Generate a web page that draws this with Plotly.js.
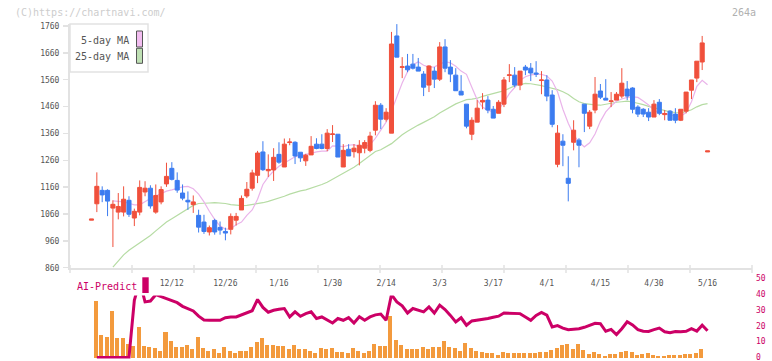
<!DOCTYPE html>
<html><head><meta charset="utf-8">
<script src="https://cdn.plot.ly/plotly-3.0.1.min.js"></script>
<style>html,body{margin:0;padding:0;background:#fff}#chart{width:772px;height:361px}</style>
</head><body><div id="chart"></div>
<script>
const dates = ["2024-11-21","2024-11-22","2024-11-25","2024-11-26","2024-11-27","2024-11-28","2024-11-29",
"2024-12-02","2024-12-03","2024-12-04","2024-12-05","2024-12-06","2024-12-09","2024-12-10","2024-12-11","2024-12-12","2024-12-13",
"2024-12-16","2024-12-17","2024-12-18","2024-12-19","2024-12-20","2024-12-23","2024-12-24","2024-12-25","2024-12-26","2024-12-27","2024-12-30",
"2025-01-06","2025-01-07","2025-01-08","2025-01-09","2025-01-10","2025-01-14","2025-01-15","2025-01-16","2025-01-17","2025-01-20","2025-01-21",
"2025-01-22","2025-01-23","2025-01-24","2025-01-27","2025-01-28","2025-01-29","2025-01-30","2025-01-31",
"2025-02-03","2025-02-04","2025-02-05","2025-02-06","2025-02-07","2025-02-10","2025-02-12","2025-02-13","2025-02-14","2025-02-17","2025-02-18",
"2025-02-19","2025-02-20","2025-02-21","2025-02-25","2025-02-26","2025-02-27","2025-02-28",
"2025-03-03","2025-03-04","2025-03-05","2025-03-06","2025-03-07","2025-03-10","2025-03-11","2025-03-12","2025-03-13","2025-03-14","2025-03-17",
"2025-03-18","2025-03-19","2025-03-21","2025-03-24","2025-03-25","2025-03-26","2025-03-27","2025-03-28","2025-03-31",
"2025-04-01","2025-04-02","2025-04-03","2025-04-04","2025-04-07","2025-04-08","2025-04-09","2025-04-10","2025-04-11","2025-04-14","2025-04-15",
"2025-04-16","2025-04-17","2025-04-18","2025-04-21","2025-04-22","2025-04-23","2025-04-24","2025-04-25","2025-04-28","2025-04-30",
"2025-05-01","2025-05-02","2025-05-07","2025-05-08","2025-05-09","2025-05-12","2025-05-13","2025-05-14","2025-05-15","2025-05-16"];

const open  = [1037,1098,1148,1148,1082,1067,1067,1111,1045,1067,1142,1156,1067,1105,1172,1230,1185,1138,1111,1095,
1055,1030,993,1036,1010,995,1003,1037,1075,1127,1156,1204,1291,1221,1224,1282,1235,1326,1327,1290,
1258,1280,1320,1320,1304,1356,1357,1235,1301,1292,1288,1305,1297,1372,1465,1413,1361,1723,1606,1611,
1618,1607,1581,1540,1592,1562,1682,1607,1577,1517,1469,1357,1402,1477,1484,1450,1435,1469,1576,1577,
1540,1607,1603,1585,1557,1559,1503,1245,1331,1193,1327,1335,1469,1387,1447,1518,1491,1479,1484,1499,
1525,1529,1458,1450,1439,1421,1476,1430,1443,1432,1409,1443,1521,1566,1626,1291];
const high  = [1041,1215,1163,1152,1111,1138,1163,1126,1080,1185,1182,1167,1170,1163,1251,1253,1215,1170,1144,1129,
1076,1057,1017,1042,1032,1009,1062,1064,1129,1179,1225,1295,1331,1282,1305,1327,1341,1342,1331,1290,
1284,1350,1342,1357,1376,1391,1357,1320,1320,1320,1335,1335,1366,1480,1473,1454,1738,1767,1644,1656,
1656,1641,1592,1614,1607,1700,1711,1633,1603,1577,1469,1420,1484,1510,1499,1462,1484,1570,1618,1607,
1592,1615,1622,1629,1592,1577,1521,1391,1357,1275,1409,1342,1469,1447,1570,1544,1562,1514,1514,1603,
1555,1532,1465,1454,1454,1484,1488,1447,1447,1454,1450,1514,1559,1629,1723,1295];
const low   = [1037,1067,1104,1052,937,1040,1051,1049,1015,1055,1126,1080,1061,1096,1161,1185,1139,1111,1075,1064,
991,986,980,983,983,962,984,1017,1075,1119,1147,1175,1220,1198,1183,1247,1235,1316,1246,1254,
1239,1280,1301,1301,1294,1328,1272,1235,1276,1270,1241,1286,1290,1353,1376,1404,1361,1644,1566,1588,
1598,1592,1499,1514,1529,1555,1588,1551,1519,1503,1379,1335,1402,1450,1435,1417,1435,1458,1551,1532,
1521,1577,1555,1570,1506,1480,1383,1234,1238,1107,1297,1234,1365,1376,1435,1488,1484,1458,1484,1491,
1484,1435,1421,1421,1406,1421,1428,1409,1409,1398,1406,1435,1488,1551,1596,1291];
const close = [1041,1163,1131,1108,1096,1088,1115,1059,1070,1159,1156,1090,1129,1151,1200,1189,1149,1119,1105,1105,
1011,995,1009,993,1000,989,1051,1051,1118,1152,1213,1287,1225,1226,1271,1253,1320,1328,1276,1269,
1279,1312,1304,1304,1361,1358,1272,1297,1276,1305,1316,1326,1350,1465,1413,1439,1693,1644,1608,1597,
1603,1592,1532,1611,1562,1682,1603,1581,1519,1503,1387,1409,1454,1483,1447,1417,1476,1559,1578,1540,
1592,1596,1585,1581,1559,1499,1394,1361,1316,1174,1372,1316,1435,1439,1506,1495,1484,1481,1506,1547,
1499,1450,1432,1432,1421,1469,1435,1434,1409,1409,1450,1514,1559,1629,1697,1295];

const ma5 = [null,null,null,null,1109,1107,1105,1100,1094,1094,1107,1118,1127,1136,1145,1150,1156,1161,1163,1154,
1134,1105,1070,1040,1015,1004,1005,1020,1030,1055,1075,1115,1170,1198,1220,1238,1250,1263,1273,1278,
1281,1286,1291,1294,1294,1314,1313,1311,1316,1318,1312,1311,1318,1342,1372,1402,1443,1495,1548,1590,
1615,1627,1614,1607,1608,1617,1627,1623,1610,1592,1580,1532,1485,1458,1446,1441,1448,1476,1508,1531,
1557,1571,1578,1580,1580,1574,1555,1515,1450,1398,1355,1328,1310,1325,1358,1405,1440,1462,1480,1488,
1494,1496,1494,1481,1466,1447,1436,1434,1429,1424,1424,1438,1478,1535,1558,1541];
const ma25 = [null,null,null,null,862,887,908,925,938,951,965,980,997,1014,1030,1042,1055,1068,1079,1092,
1099,1101,1101,1102,1101,1099,1095,1093,1091,1092,1095,1098,1102,1107,1113,1118,1126,1134,1141,1146,
1150,1156,1162,1170,1178,1189,1202,1213,1224,1234,1248,1264,1280,1293,1299,1310,1322,1338,1355,1368,
1381,1391,1401,1411,1422,1436,1448,1461,1470,1478,1486,1488,1491,1498,1504,1510,1514,1519,1527,1537,
1542,1546,1545,1542,1538,1533,1528,1523,1515,1505,1490,1478,1471,1468,1466,1465,1469,1473,1476,1478,
1480,1477,1473,1467,1461,1456,1450,1444,1440,1438,1437,1441,1448,1459,1467,1471];

const volume = [null,577,233,217,477,207,207,143,123,317,123,110,103,77,267,177,110,110,133,90,
213,107,77,90,57,110,77,57,77,77,110,167,200,130,133,123,123,97,130,90,
90,77,57,103,90,103,67,67,57,103,77,57,77,143,123,123,427,183,133,93,
93,93,110,97,110,110,177,110,100,77,153,103,77,60,53,53,33,63,50,50,
50,57,57,53,63,67,83,103,133,147,90,143,83,40,63,43,27,40,40,60,
73,60,33,43,50,33,23,27,33,33,33,43,43,50,93,7];

const aiPredict = [null,0,0,0,0,0,0,0,36,48,35,35.5,39.5,38.2,37.4,36,34.5,32.2,30.5,29.3,
26,23.6,23.4,23.4,23.4,25,25.5,25.5,26.8,28,29.4,36.5,31.5,28.5,29.7,30.3,30.8,25.5,28.7,25.9,
27.6,28.7,24.5,25.5,23.5,21.7,24.5,23.4,25.1,21.7,25.6,23.4,25.5,26.8,27.3,23.4,39.5,35,32.5,28,
30.8,29.8,28.7,31.8,28,32.9,30.2,26.5,22.4,25,20.3,23,23.5,23.8,24.5,25.3,26,28,28,28,
27.6,25.5,23.4,26.5,28.3,26.6,19.2,20.1,18.5,17.5,17.7,18.1,19,20.5,21.5,21.3,16.5,17.7,14.4,18.1,
22.5,20.5,17.5,16.5,16.4,17.5,18.5,16.2,15.6,16.4,16.2,16.5,18.1,16.6,20.3,16.8];

const tickDates = ["2024-12-12","2024-12-26","2025-01-16","2025-01-30","2025-02-14","2025-03-03","2025-03-17","2025-04-01","2025-04-15","2025-04-30","2025-05-16"];
const tickLabels = ["12/12","12/26","1/16","1/30","2/14","3/3","3/17","4/1","4/15","4/30","5/16"];
const priceTicks = [860,960,1060,1160,1260,1360,1460,1560,1660,1760];
const aiTicks = [0,10,20,30,40,50];

const W = 772, H = 361;
const px = v => v / W;
const py = v => 1 - v / H;
const FONT = 'DejaVu Sans Mono';
const RED = '#f0503c', BLUE = '#3c7cf0', GRID = '#e2e2e2', MAG = '#cc0066';
const XR = [-4.01, 123.3];

const traces = [
  {type:'bar', x:dates, y:volume, xaxis:'x2', yaxis:'y2', marker:{color:'#f39a3d', line:{width:0}},
   width:0.75, offset:-0.56, hoverinfo:'skip'},
  {type:'scatter', mode:'lines', x:dates, y:aiPredict, xaxis:'x2', yaxis:'y3',
   line:{color:MAG, width:3}, hoverinfo:'skip'},
  {type:'scatter', mode:'lines', x:dates, y:ma25, xaxis:'x', yaxis:'y',
   line:{color:'#b6dca4', width:1.2}, hoverinfo:'skip'},
  {type:'scatter', mode:'lines', x:dates, y:ma5, xaxis:'x', yaxis:'y',
   line:{color:'#eab4ea', width:1.2}, hoverinfo:'skip'},
  {type:'candlestick', x:dates, open:open, high:high, low:low, close:close, xaxis:'x', yaxis:'y5',
   increasing:{line:{color:RED, width:1}, fillcolor:RED},
   decreasing:{line:{color:BLUE, width:1}, fillcolor:BLUE},
   whiskerwidth:0, hoverinfo:'skip'},
  {type:'scatter', mode:'markers', x:[dates[0]], y:[0], xaxis:'x2', yaxis:'y4',
   marker:{size:1, opacity:0}, hoverinfo:'skip'}
];

const xTickShapes = [];
for (let k = 0; k <= 11; k++) {
  const xx = px(70 + 62 * k);
  xTickShapes.push({type:'line', xref:'paper', yref:'paper', x0:xx, x1:xx, y0:py(265), y1:py(273),
    line:{color:GRID, width:1.5}});
}

const layout = {
  width:W, height:H, margin:{l:0, r:0, t:0, b:0},
  paper_bgcolor:'#fff', plot_bgcolor:'rgba(0,0,0,0)',
  showlegend:false, boxgap:0.24, boxgroupgap:0, bargap:0,
  xaxis:{domain:[px(70), px(752)], range:XR, type:'category', anchor:'y',
    tickvals:tickDates, ticktext:tickLabels, ticks:'', showgrid:false, zeroline:false,
    showline:true, linecolor:GRID, linewidth:2, ticklabelstandoff:7,
    tickfont:{family:FONT, size:8, color:'#555'}, rangeslider:{visible:false}, fixedrange:true},
  yaxis:{domain:[py(267.7), py(24)], range:[860, 1767.45], anchor:'x',
    tickvals:priceTicks, ticks:'outside', ticklen:5, tickwidth:1.5, tickcolor:GRID,
    showline:true, linecolor:GRID, linewidth:2, showgrid:false, zeroline:false,
    ticklabelstandoff:2, tickfont:{family:FONT, size:8, color:'#555'}, fixedrange:true},
  yaxis5:{overlaying:'y', range:[860, 1767.45], visible:false, fixedrange:true},
  xaxis2:{domain:[px(70), px(752)], range:XR, type:'category', anchor:'y2', visible:false, fixedrange:true},
  yaxis2:{domain:[py(358.5), py(295.5)], range:[-2, 628], anchor:'x2', visible:false, fixedrange:true},
  yaxis3:{overlaying:'y2', range:[-0.63, 39.0], visible:false, fixedrange:true},
  yaxis4:{domain:[py(359.1), py(278)], range:[-1, 50], anchor:'free', position:px(752), side:'right',
    tickvals:aiTicks, ticks:'', showline:false, showgrid:false, zeroline:false, ticklabelstandoff:3,
    ticklabeloverflow:'allow', tickfont:{family:FONT, size:8, color:MAG}, fixedrange:true},
  shapes: xTickShapes.concat([
    {type:'rect', xref:'paper', yref:'paper', x0:px(70), x1:px(148), y0:py(72), y1:py(24),
     line:{color:GRID, width:1.5}, fillcolor:'#fff', layer:'above'},
    {type:'rect', xref:'paper', yref:'paper', x0:px(136.5), x1:px(142.5), y0:py(47), y1:py(31),
     line:{color:'#555', width:1}, fillcolor:'#f2bdf0', layer:'above'},
    {type:'rect', xref:'paper', yref:'paper', x0:px(136.5), x1:px(142.5), y0:py(63.3), y1:py(48.3),
     line:{color:'#555', width:1}, fillcolor:'#bfe0b4', layer:'above'},
    {type:'rect', xref:'paper', yref:'paper', x0:px(142.3), x1:px(148.7), y0:py(293), y1:py(277.3),
     line:{width:0}, fillcolor:MAG, layer:'above'}
  ]),
  annotations:[
    {text:'(C)https://chartnavi.com/', xref:'paper', yref:'paper', x:px(13), y:py(12.7),
     xanchor:'left', yanchor:'middle', showarrow:false, font:{family:FONT, size:10, color:'#cdcdcd'}},
    {text:'264a', xref:'paper', yref:'paper', x:px(758), y:py(12.7),
     xanchor:'right', yanchor:'middle', showarrow:false, font:{family:FONT, size:10, color:'#b0b0b0'}},
    {text:'5-day MA', xref:'paper', yref:'paper', x:px(130.5), y:py(40),
     xanchor:'right', yanchor:'middle', showarrow:false, font:{family:FONT, size:10, color:'#555'}},
    {text:'25-day MA', xref:'paper', yref:'paper', x:px(130.5), y:py(56.5),
     xanchor:'right', yanchor:'middle', showarrow:false, font:{family:FONT, size:10, color:'#555'}},
    {text:'AI-Predict', xref:'paper', yref:'paper', x:px(75), y:py(286),
     xanchor:'left', yanchor:'middle', showarrow:false, font:{family:FONT, size:10, color:MAG}}
  ]
};

Plotly.newPlot('chart', traces, layout, {displayModeBar:false, staticPlot:true});
</script>
</body></html>
